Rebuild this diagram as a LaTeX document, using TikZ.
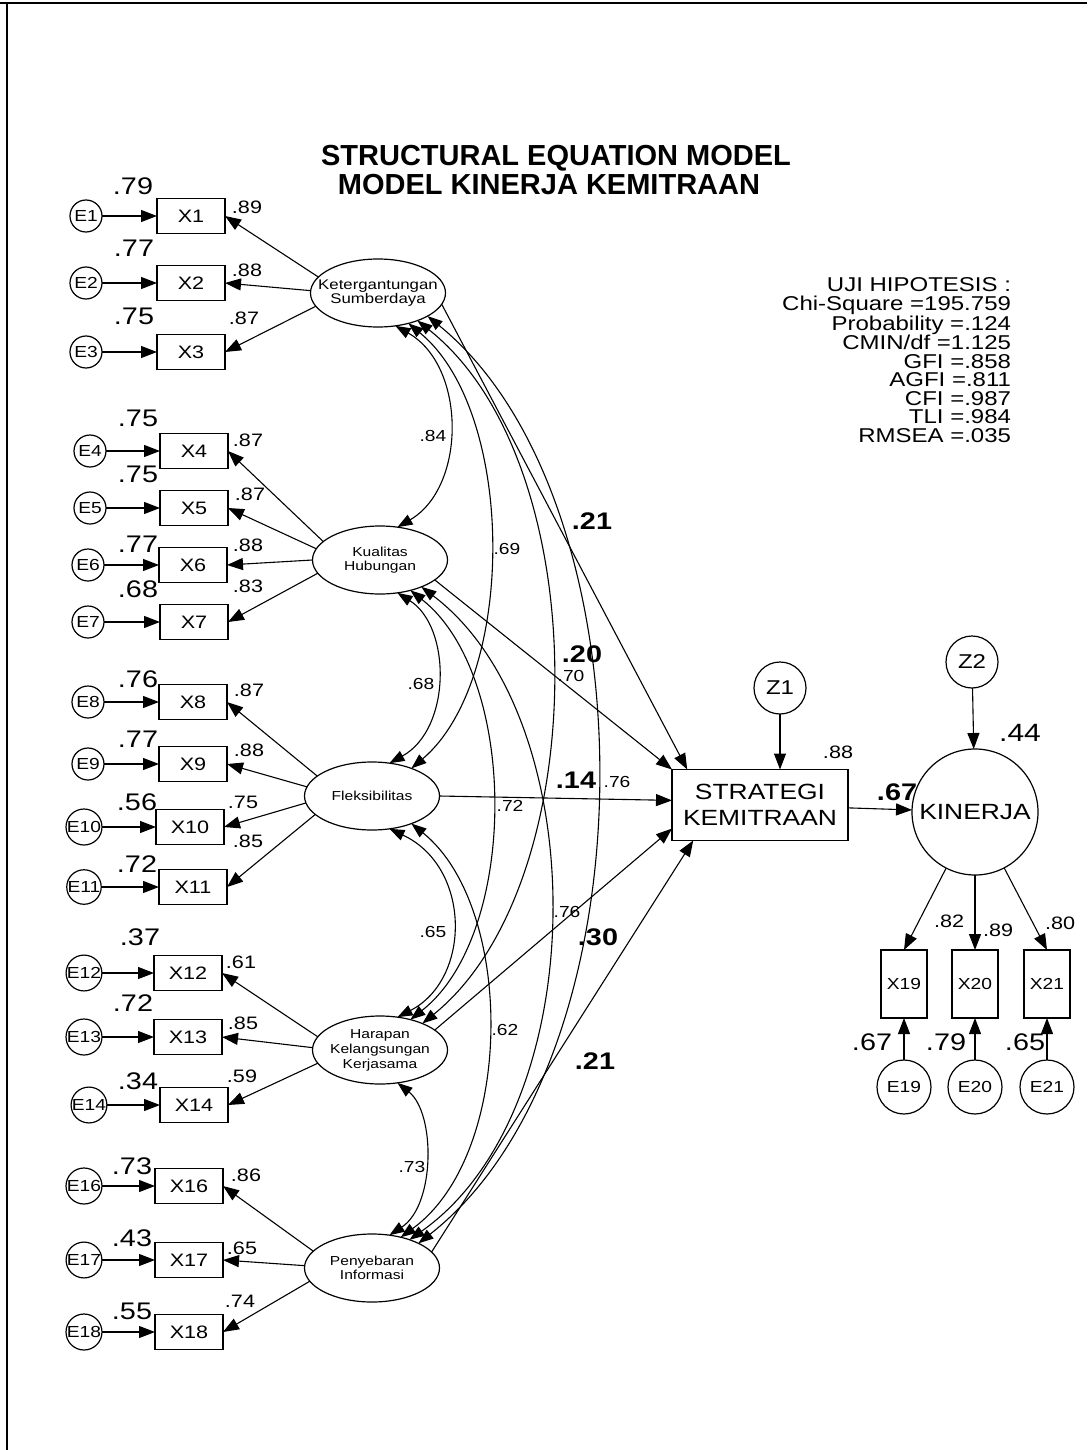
\documentclass[tikz,border=0pt]{standalone}
\usepackage{fontspec}
\setmainfont{Liberation Sans}[FakeStretch=1.2]
\newfontfamily\titlefont{Liberation Sans}
\usetikzlibrary{arrows.meta,shapes.geometric}
\newcommand{\fsz}[1]{\fontsize{#1}{#1}\selectfont}
\newcommand{\fszb}[2]{\fontsize{#1}{#2}\selectfont}
\begin{document}
\begin{tikzpicture}[x=1pt,y=-1pt,
  every node/.style={inner sep=0pt, outer sep=0pt},
  tip/.style={line width=1.1pt,-{Triangle[length=16pt,width=12pt]}},
  dtip/.style={line width=1.1pt,{Triangle[length=15pt,width=11pt]}-{Triangle[length=15pt,width=11pt]}},
  obs/.style={draw, line width=1.2pt, minimum width=68pt, minimum height=35pt, font=\fsz{18}},
  err/.style={draw, circle, line width=1.2pt, minimum size=32pt, font=\fsz{16}},
  lat/.style={draw, ellipse, line width=1.2pt, minimum width=135pt, minimum height=68pt},
  lattext/.style={align=center, font=\fszb{13}{14}},
  sq/.style={font=\fsz{24}},
  ld/.style={font=\fsz{18}},
  cr/.style={font=\fsz{16}},
  pc/.style={font=\bfseries\fsz{24}},
  ttl/.style={font=\titlefont\bfseries\fsz{29}},
  obsv/.style={draw, line width=1.2pt, minimum width=46pt, minimum height=68pt, font=\fsz{16}},
  errb/.style={draw, circle, line width=1.2pt, minimum size=54pt, font=\fsz{16}},
]
\useasboundingbox (0,0) rectangle (1087,1450);
\draw[line width=2pt] (0,3) -- (1087,3);
\draw[line width=1.5pt] (7,3) -- (7,1450);

% title
\node[ttl] (t1) at (556,158) {STRUCTURAL EQUATION MODEL};
\node[ttl] (t2) at (549,185) {MODEL KINERJA KEMITRAAN};

% stats
\node[anchor=north east, align=right, font=\fszb{20}{18.5}] (stats) at (1011,278)
 {UJI HIPOTESIS :\\Chi-Square =195.759\\Probability =.124\\CMIN/df =1.125\\GFI =.858\\AGFI =.811\\CFI =.987\\TLI =.984\\RMSEA =.035};

% latent ellipses
\node[lat] (ks) at (378,293) {};
\node[lattext, font=\fszb{14}{14}] (kst) at (ks) {Ketergantungan\\Sumberdaya};
\node[lat] (kh) at (380,560) {};
\node[lattext] (kht) at (kh) {Kualitas\\Hubungan};
\node[lat] (fl) at (372,796) {};
\node[lattext] (flt) at (fl) {Fleksibilitas};
\node[lat] (hk) at (380,1050) {};
\node[lattext, font=\fszb{13}{15}] (hkt) at (hk) {Harapan\\Kelangsungan\\Kerjasama};
\node[lat] (pi) at (372,1268) {};
\node[lattext] (pit) at (pi) {Penyebaran\\Informasi};

% observed boxes
\node[obs] (x1) at (191,216) {X1};
\node[obs] (x2) at (191,283) {X2};
\node[obs] (x3) at (191,352) {X3};
\node[obs] (x4) at (194,451) {X4};
\node[obs] (x5) at (194,508) {X5};
\node[obs] (x6) at (193,565) {X6};
\node[obs] (x7) at (194,622) {X7};
\node[obs] (x8) at (193,702) {X8};
\node[obs] (x9) at (193,764) {X9};
\node[obs] (x10) at (190,827) {X10};
\node[obs] (x11) at (193,887) {X11};
\node[obs] (x12) at (188,973) {X12};
\node[obs] (x13) at (188,1037) {X13};
\node[obs] (x14) at (194,1105) {X14};
\node[obs] (x16) at (189,1186) {X16};
\node[obs] (x17) at (189,1260) {X17};
\node[obs] (x18) at (189,1332) {X18};

% error circles
\node[err] (e1) at (86,216) {E1};
\node[err] (e2) at (86,283) {E2};
\node[err] (e3) at (86,352) {E3};
\node[err] (e4) at (90,451) {E4};
\node[err] (e5) at (90,508) {E5};
\node[err] (e6) at (88,565) {E6};
\node[err] (e7) at (88,622) {E7};
\node[err] (e8) at (88,702) {E8};
\node[err] (e9) at (88,764) {E9};
\node[err] (e10) at (84,827) {E10};
\node[err] (e11) at (84,887) {E11};
\node[err] (e12) at (84,973) {E12};
\node[err] (e13) at (84,1037) {E13};
\node[err] (e14) at (89,1105) {E14};
\node[err] (e16) at (84,1186) {E16};
\node[err] (e17) at (84,1260) {E17};
\node[err] (e18) at (84,1332) {E18};

\foreach \i in {1,...,14,16,17,18} { \draw[tip] (e\i) -- (x\i); }

% loadings
\draw[tip] (ks.165) -- (x1.east);
\draw[tip] (ks.178) -- (x2.east);
\draw[tip] (ks.192) -- (x3.east);
\draw[tip] (kh.162) -- (x4.east);
\draw[tip] (kh.170) -- (x5.east);
\draw[tip] (kh.180) -- (x6.east);
\draw[tip] (kh.192) -- (x7.east);
\draw[tip] (fl.160) -- (x8.east);
\draw[tip] (fl.172) -- (x9.east);
\draw[tip] (fl.186) -- (x10.east);
\draw[tip] (fl.198) -- (x11.east);
\draw[tip] (hk.168) -- (x12.east);
\draw[tip] (hk.178) -- (x13.east);
\draw[tip] (hk.192) -- (x14.east);
\draw[tip] (pi.164) -- (x16.east);
\draw[tip] (pi.178) -- (x17.east);
\draw[tip] (pi.192) -- (x18.east);

% squared multiple correlations
\node[sq] (r1) at (133,186) {.79};
\node[sq] (r2) at (134,248) {.77};
\node[sq] (r3) at (134,316) {.75};
\node[sq] (r4) at (138,418) {.75};
\node[sq] (r5) at (138,474) {.75};
\node[sq] (r6) at (138,544) {.77};
\node[sq] (r7) at (138,589) {.68};
\node[sq] (r8) at (138,679) {.76};
\node[sq] (r9) at (138,739) {.77};
\node[sq] (r10) at (137,802) {.56};
\node[sq] (r11) at (137,864) {.72};
\node[sq] (r12) at (140,937) {.37};
\node[sq] (r13) at (133,1003) {.72};
\node[sq] (r14) at (138,1081) {.34};
\node[sq] (r16) at (132,1166) {.73};
\node[sq] (r17) at (132,1238) {.43};
\node[sq] (r18) at (132,1311) {.55};

% loading values
\node[ld] (l1) at (247,207) {.89};
\node[ld] (l2) at (247,270) {.88};
\node[ld] (l3) at (244,318) {.87};
\node[ld] (l4) at (248,440) {.87};
\node[ld] (l5) at (250,494) {.87};
\node[ld] (l6) at (248,545) {.88};
\node[ld] (l7) at (248,586) {.83};
\node[ld] (l8) at (249,690) {.87};
\node[ld] (l9) at (249,750) {.88};
\node[ld] (l10) at (243,802) {.75};
\node[ld] (l11) at (248,841) {.85};
\node[ld] (l12) at (241,962) {.61};
\node[ld] (l13) at (243,1023) {.85};
\node[ld] (l14) at (242,1076) {.59};
\node[ld] (l16) at (246,1175) {.86};
\node[ld] (l17) at (242,1248) {.65};
\node[ld] (l18) at (240,1301) {.74};

% correlations between latents
\draw[dtip] (ks.-62) .. controls (466.5,366) and (466.5,487) .. (kh.62);
\draw[dtip] (kh.-62) .. controls (451.5,627) and (451.5,729) .. (fl.62);
\draw[dtip] (fl.-62) .. controls (471.5,867) and (471.5,979) .. (hk.62);
\draw[dtip] (hk.-62) .. controls (435.5,1113) and (435.5,1205) .. (pi.62);
\draw[dtip] (ks.-45) .. controls (516.7,412) and (516.7,679) .. (fl.35);
\draw[dtip] (kh.-45) .. controls (519.2,676) and (519.2,934) .. (hk.45);
\draw[dtip] (fl.-35) .. controls (515.3,907) and (515.3,1154) .. (pi.47);
\draw[dtip] (ks.-35) .. controls (596,462) and (596,883) .. (hk.32);
\draw[dtip] (kh.-33) .. controls (594.9,718) and (594.9,1109) .. (pi.37);
\draw[dtip] (ks.-25) .. controls (655,501) and (655,1058) .. (pi.28);

\node[cr] (c1) at (433,436) {.84};
\node[cr] (c2) at (507,549) {.69};
\node[cr] (c3) at (421,684) {.68};
\node[cr] (c4) at (571,676) {.70};
\node[cr] (c5) at (510,806) {.72};
\node[cr] (c6) at (617,782) {.76};
\node[cr] (c7) at (433,932) {.65};
\node[cr] (c8) at (567,912) {.76};
\node[cr] (c9) at (505,1030) {.62};
\node[cr] (c10) at (412,1167) {.73};

% structural part
\node[draw, line width=1.2pt, minimum width=176pt, minimum height=71pt, align=center, font=\fszb{22}{26}] (s) at (760,805) {STRATEGI\\KEMITRAAN};
\node[draw, circle, line width=1.2pt, minimum size=52pt, font=\fsz{20}] (z1) at (780,688) {Z1};
\node[draw, circle, line width=1.2pt, minimum size=52pt, font=\fsz{20}] (z2) at (972,662) {Z2};
\node[draw, circle, line width=1.2pt, minimum size=126pt, font=\fsz{22}] (k) at (975,812) {KINERJA};

\draw[tip] (ks.350) -- (s.154);
\draw[tip] (kh.340) -- (s.north west);
\draw[tip] (fl.east) -- (s.177);
\draw[tip] (hk.20) -- (s.195);
\draw[tip] (pi.15) -- (s.208);
\draw[tip] (z1) -- (z1 |- s.north);
\draw[tip] (z2) -- (k);
\draw[tip] (s) -- (k);

\node[pc] (p1) at (592,521) {.21};
\node[pc] (p2) at (582,654) {.20};
\node[pc] (p3) at (576,780) {.14};
\node[pc] (p4) at (598,937) {.30};
\node[pc] (p5) at (595,1061) {.21};

\node[font=\fsz{18}] (rs) at (838,752) {.88};
\node[font=\fsz{25}] (rk) at (1020,733) {.44};
\node[font=\bfseries\fsz{24}] (psk) at (897,792) {.67};

\node[obsv] (x19) at (904,984) {X19};
\node[obsv] (x20) at (975,984) {X20};
\node[obsv] (x21) at (1047,984) {X21};
\node[errb] (e19) at (904,1087) {E19};
\node[errb] (e20) at (975,1087) {E20};
\node[errb] (e21) at (1047,1087) {E21};
\draw[tip] (k) -- (x19.north);
\draw[tip] (k) -- (x20.north);
\draw[tip] (k) -- (x21.north);
\draw[tip] (e19) -- (x19);
\draw[tip] (e20) -- (x20);
\draw[tip] (e21) -- (x21);

\node[font=\fsz{18}] (l19) at (949,921) {.82};
\node[font=\fsz{18}] (l20) at (998,930) {.89};
\node[font=\fsz{18}] (l21) at (1060,923) {.80};
\node[font=\fsz{24}] (r19) at (872,1042) {.67};
\node[font=\fsz{24}] (r20) at (946,1042) {.79};
\node[font=\fsz{24}] (r21) at (1025,1042) {.65};
\end{tikzpicture}
\end{document}
